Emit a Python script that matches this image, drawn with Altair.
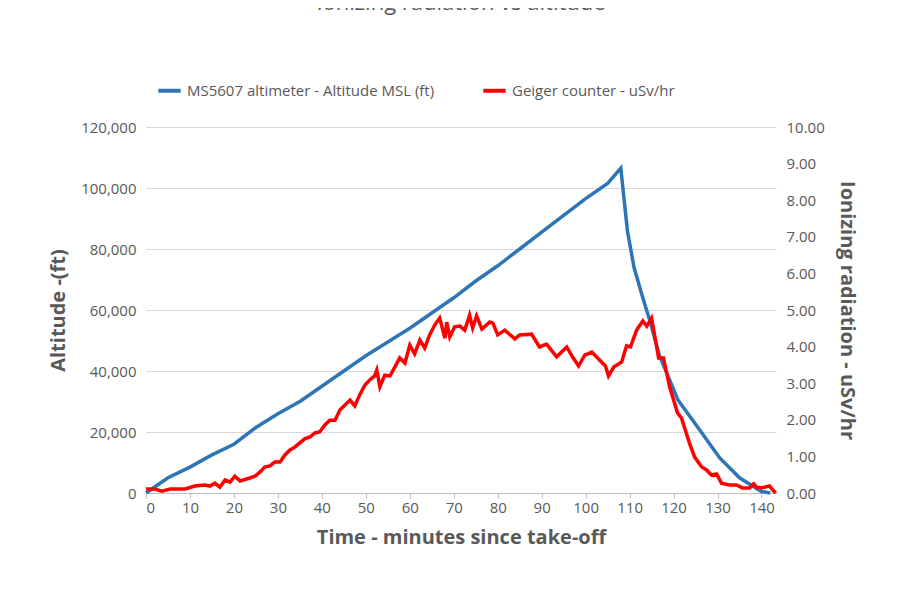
import altair as alt
import pandas as pd

alt_min = [0, 5, 10, 15, 20, 25, 30, 35, 40, 45, 50, 55, 60, 65, 70, 75, 80, 85, 90,
           95, 100, 105, 108, 109.5, 111, 113, 114.5, 116.8, 121, 126, 130.5, 135, 140, 142]
alt_ft = [0, 5000, 8500, 12500, 16000, 21500, 26000, 30000, 35000, 40000, 45000, 49500,
          54000, 59000, 64000, 69500, 74500, 80000, 85500, 91000, 96500, 101500, 106500,
          86000, 74000, 64000, 57000, 45000, 30500, 20600, 11500, 5000, 500, 0]

rad_min = [0, 2.0, 3.6, 5.5, 8.9, 11.1, 13.4, 14.5, 15.7, 16.8, 18.0, 19.1, 20.2, 21.4,
           23.6, 24.8, 25.9, 27.0, 28.2, 29.3, 30.5, 31.6, 32.7, 33.9, 35.0, 36.1, 37.3,
           38.4, 39.5, 40.7, 41.8, 43.0, 44.1, 45.2, 46.4, 47.5, 48.6, 49.8, 50.9, 52.0,
           52.5, 53.2, 54.3, 55.5, 56.6, 57.7, 58.9, 60.0, 61.1, 62.3, 63.4, 64.5, 65.7,
           66.8, 68.0, 68.4, 69.1, 70.2, 71.4, 72.5, 73.6, 74.3, 75.2, 76.4, 78.2, 78.9,
           80.0, 81.6, 83.9, 85.0, 87.7, 89.5, 91.1, 93.4, 95.7, 97.0, 98.4, 99.8, 101.4,
           103.6, 104.5, 105.2, 106.4, 108.2, 109.3, 110.2, 111.6, 113.0, 113.9, 115.0,
           116.6, 117.7, 119.1, 120.9, 121.8, 123.6, 124.8, 126.4, 127.5, 128.6, 129.8,
           130.9, 132.7, 134.3, 135.7, 137.3, 138.2, 138.9, 140.0, 141.8, 143.2]
rad_usv = [0.11, 0.11, 0.05, 0.11, 0.11, 0.19, 0.22, 0.19, 0.27, 0.16, 0.36, 0.30, 0.46,
           0.33, 0.41, 0.46, 0.57, 0.71, 0.74, 0.85, 0.85, 1.04, 1.17, 1.26, 1.37, 1.48,
           1.53, 1.64, 1.67, 1.86, 1.99, 1.99, 2.27, 2.40, 2.54, 2.38, 2.68, 2.95, 3.09,
           3.20, 3.36, 2.90, 3.22, 3.20, 3.44, 3.69, 3.55, 4.04, 3.80, 4.18, 3.96, 4.32,
           4.59, 4.78, 4.23, 4.67, 4.26, 4.54, 4.56, 4.45, 4.86, 4.51, 4.84, 4.48, 4.67,
           4.64, 4.32, 4.45, 4.21, 4.32, 4.34, 3.99, 4.07, 3.72, 3.99, 3.72, 3.47, 3.77,
           3.85, 3.58, 3.47, 3.20, 3.44, 3.58, 4.02, 3.99, 4.45, 4.70, 4.56, 4.78, 3.69,
           3.69, 2.90, 2.19, 2.05, 1.37, 0.98, 0.71, 0.63, 0.49, 0.52, 0.27, 0.22, 0.22,
           0.14, 0.14, 0.25, 0.16, 0.14, 0.19, 0.0]

s_alt = "MS5607 altimeter - Altitude MSL (ft)"
s_rad = "Geiger counter - uSv/hr"

df_alt = pd.DataFrame({"t": alt_min, "v": alt_ft, "s": s_alt})
df_rad = pd.DataFrame({"t": rad_min, "v": rad_usv, "s": s_rad})

FONT = "Open Sans"
GREY = "#595959"
x_scale = alt.Scale(domain=[0, 143.3], nice=False)
color = alt.Color("s:N", scale=alt.Scale(domain=[s_alt, s_rad], range=["#2e75b6", "#ff0000"]),
                  legend=alt.Legend(title=None, orient="none", legendX=10, legendY=-50,
                                    direction="horizontal", symbolType="stroke",
                                    symbolSize=500, symbolStrokeWidth=4, labelFontSize=15,
                                    labelColor=GREY, labelFont=FONT, columnPadding=40,
                                    labelLimit=400))

x_enc = alt.X("t:Q", scale=x_scale,
              axis=alt.Axis(title="Time - minutes since take-off", values=list(range(0, 141, 10)),
                            grid=False, domainColor="#bfbfbf", tickColor="#bfbfbf"))

blue = alt.Chart(df_alt).mark_line(strokeWidth=3.5).encode(
    x=x_enc,
    y=alt.Y("v:Q", scale=alt.Scale(domain=[0, 120000]),
            axis=alt.Axis(title="Altitude -(ft)", format=",.0f", tickCount=7, domain=False,
                          ticks=False, gridColor="#d9d9d9", labelPadding=10)),
    color=color,
)

red = alt.Chart(df_rad).mark_line(strokeWidth=3.5).encode(
    x=x_enc,
    y=alt.Y("v:Q", scale=alt.Scale(domain=[0, 10]),
            axis=alt.Axis(title="Ionizing radiation - uSv/hr", orient="right", format=".2f",
                          tickCount=11, grid=False, domain=False, ticks=False, labelPadding=10)),
    color=color,
)

chart = alt.layer(blue, red).resolve_scale(y="independent").properties(
    width=630, height=366,
    autosize=alt.AutoSizeParams(type="none"),
    padding={"left": 138, "top": 119, "right": 110, "bottom": 80},
    title=alt.TitleParams("Ionizing radiation vs altitude", fontSize=22, font=FONT,
                          color=GREY, fontWeight="normal", offset=62),
).configure_view(stroke=None).configure_axis(
    labelFont=FONT, labelFontSize=15, labelColor=GREY,
    titleFont=FONT, titleFontSize=20, titleColor=GREY, titleFontWeight="bold",
    titlePadding=12,
)

chart.save("out.html", embed_options={"renderer": "svg", "actions": False})
